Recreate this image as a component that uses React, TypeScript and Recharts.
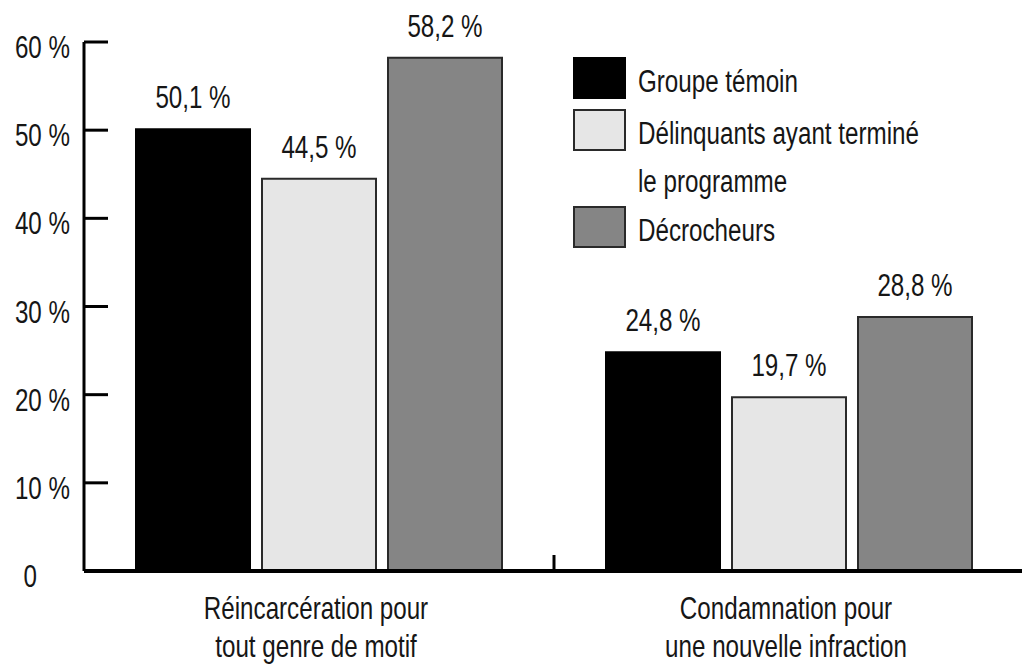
import React from 'react';
import { BarChart, Bar, XAxis, YAxis, LabelList, Legend } from 'recharts';

const categories = ['Réincarcération pour\ntout genre de motif', 'Condamnation pour\nune nouvelle infraction'];
const groupeTemoin = [50.1, 24.8];
const delinquants = [44.5, 19.7];
const decrocheurs = [58.2, 28.8];
const yTicks = [0, 10, 20, 30, 40, 50, 60];

const seriesNames = ['Groupe témoin', 'Délinquants ayant terminé\nle programme', 'Décrocheurs'];
const seriesKeys = ['temoin', 'delinquants', 'decrocheurs'];
const seriesFills = ['#000000', '#e6e6e6', '#858585'];
const seriesStrokes = ['#000000', '#2a2a2a', '#2a2a2a'];

const data = categories.map((c, i) => ({
  category: c,
  temoin: groupeTemoin[i],
  delinquants: delinquants[i],
  decrocheurs: decrocheurs[i],
}));

const FONT = "'Liberation Sans', Arial, sans-serif";
const TEXT = '#161616';
const FS = 31;
const SX = 0.78;

const fmt = (v: number) => `${v.toFixed(1).replace('.', ',')} %`;

const CText = ({ x, y, anchor, children }: any) => (
  <text
    transform={`translate(${x} ${y}) scale(${SX} 1)`}
    x={0}
    y={0}
    textAnchor={anchor}
    fill={TEXT}
    fontSize={FS}
    fontFamily={FONT}
  >
    {children}
  </text>
);

const YTick = (props: any) => {
  const { x, y, payload } = props;
  const v = payload.value;
  return (
    <g>
      {v !== 0 && <line x1={x} x2={x + 24} y1={y} y2={y} stroke="#000" strokeWidth={3} />}
      <CText x={v === 0 ? x - 47 : x - 14} y={y + 16} anchor="end">
        {v === 0 ? '0' : `${v} %`}
      </CText>
    </g>
  );
};

const XTick = (props: any) => {
  const { x, y, payload, index } = props;
  const lines = String(payload.value).split('\n');
  const half = payload.offset;
  return (
    <g>
      {index === 0 && typeof half === 'number' && (
        <line x1={x + half} x2={x + half} y1={y - 2} y2={y - 16} stroke="#000" strokeWidth={3} />
      )}
      {lines.map((l, i) => (
        <CText key={i} x={x - 3} y={y + 48 + i * 38} anchor="middle">
          {l}
        </CText>
      ))}
    </g>
  );
};

const BarLabel = (props: any) => {
  const { x, y, width, value } = props;
  return (
    <CText x={Number(x) + Number(width) / 2} y={Number(y) - 21} anchor="middle">
      {fmt(Number(value))}
    </CText>
  );
};

const LegendContent = () => (
  <div style={{ fontFamily: FONT, fontSize: FS, color: TEXT }}>
    {seriesNames.map((name, i) => (
      <div key={name} style={{ display: 'flex', alignItems: 'flex-start', marginBottom: i === 0 ? 3 : 0 }}>
        <div
          style={{
            width: 53,
            height: 42,
            boxSizing: 'border-box',
            background: seriesFills[i],
            border: `2px solid ${seriesStrokes[i]}`,
            flex: 'none',
          }}
        />
        <div
          style={{
            marginLeft: 12,
            lineHeight: '48px',
            whiteSpace: 'pre',
            marginTop: 1,
            transform: `scaleX(${SX})`,
            transformOrigin: 'left top',
          }}
        >
          {name}
        </div>
      </div>
    ))}
  </div>
);

export default function App() {
  return (
    <div style={{ position: 'absolute', left: 0, top: 0, width: 1022, height: 671, overflow: 'hidden', background: '#fff' }}>
      <BarChart
        width={1040}
        height={671}
        data={data}
        margin={{ top: 42, right: 16, bottom: 0, left: 0 }}
        barGap={12}
      >
        <XAxis
          dataKey="category"
          height={100}
          axisLine={{ stroke: '#000', strokeWidth: 4 }}
          tickLine={false}
          tickSize={0}
          tickMargin={0}
          tick={<XTick />}
          interval={0}
        />
        <YAxis
          width={84}
          domain={[0, 60]}
          ticks={yTicks}
          allowDataOverflow
          axisLine={{ stroke: '#000', strokeWidth: 3 }}
          tickLine={false}
          tickSize={0}
          tickMargin={0}
          tick={<YTick />}
          interval={0}
        />
        <Legend
          layout="vertical"
          align="center"
          verticalAlign="middle"
          content={<LegendContent />}
          wrapperStyle={{ position: 'absolute', left: 573, top: 57, width: 420, height: 'auto' }}
        />
        {seriesKeys.map((k, i) => (
          <Bar
            key={k}
            dataKey={k}
            name={seriesNames[i]}
            fill={seriesFills[i]}
            stroke={seriesStrokes[i]}
            strokeWidth={2}
            barSize={114}
            isAnimationActive={false}
          >
            <LabelList dataKey={k} position="top" content={<BarLabel />} />
          </Bar>
        ))}
      </BarChart>
    </div>
  );
}
